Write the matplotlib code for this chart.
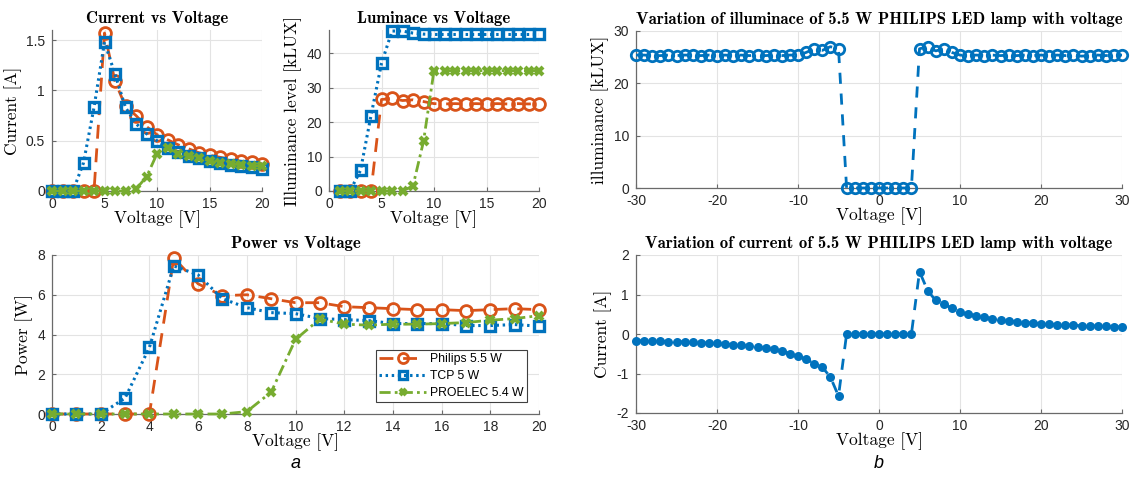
import matplotlib
matplotlib.use("Agg")
import matplotlib.pyplot as plt
from matplotlib.ticker import FuncFormatter

# ---------------- data ----------------
volts = list(range(0, 21))
philips_current = [0, 0, 0, 0, 0, 1.57, 1.09, 0.84, 0.75, 0.64, 0.56, 0.51, 0.46, 0.42,
                   0.38, 0.355, 0.335, 0.315, 0.295, 0.285, 0.27]
tcp_current = [0, 0, 0, 0.28, 0.83, 1.48, 1.16, 0.83, 0.67, 0.57, 0.50, 0.43, 0.39, 0.35,
               0.33, 0.30, 0.28, 0.26, 0.25, 0.24, 0.22]
proelec_current = [0, 0, 0, 0, 0, 0, 0, 0, 0.02, 0.14, 0.37, 0.43, 0.37, 0.35, 0.33,
                   0.30, 0.28, 0.27, 0.26, 0.25, 0.25]

lum_volts = list(range(1, 21))
philips_lum = [0, 0, 0, 0, 26.6, 26.9, 26.3, 26.5, 26.0, 25.4, 25.3, 25.4, 25.3, 25.4,
               25.3, 25.4, 25.3, 25.4, 25.3, 25.4]
tcp_lum = [0, 0, 6.0, 21.9, 37.1, 46.5, 46.5, 45.9, 45.6, 45.5, 45.5, 45.5, 45.5, 45.5,
           45.5, 45.5, 45.5, 45.5, 45.5, 45.5]
proelec_lum = [0, 0, 0, 0, 0, 0, 0, 1.5, 14.4, 35.0, 35.0, 35.0, 35.0, 35.0, 35.0,
               35.0, 35.0, 35.0, 35.0, 35.0]

philips_power = [0, 0, 0, 0, 0, 7.85, 6.55, 5.95, 6.0, 5.8, 5.6, 5.6, 5.4, 5.35, 5.3,
                 5.25, 5.25, 5.2, 5.25, 5.3, 5.25]
tcp_power = [0, 0, 0, 0.8, 3.35, 7.45, 7.0, 5.8, 5.35, 5.1, 5.05, 4.8, 4.75, 4.7, 4.55,
             4.55, 4.55, 4.45, 4.45, 4.5, 4.42]
proelec_power = [0, 0, 0, 0, 0, 0, 0, 0, 0.12, 1.1, 3.75, 4.78, 4.52, 4.47, 4.52, 4.52,
                 4.55, 4.6, 4.72, 4.8, 4.95]

sym_volts = list(range(-30, 31))
philips_illum_sym = [25.4, 25.4, 25.3, 25.3, 25.4, 25.3, 25.4, 25.4, 25.3, 25.4, 25.3,
                     25.4, 25.3, 25.4, 25.3, 25.4, 25.3, 25.4, 25.3, 25.4, 25.4,
                     25.9, 26.6, 26.3, 27.0, 26.6,
                     0, 0, 0, 0, 0, 0, 0, 0, 0,
                     26.6, 27.0, 26.2, 26.6, 25.9,
                     25.4, 25.3, 25.4, 25.3, 25.4, 25.3, 25.4, 25.3, 25.4, 25.3, 25.4,
                     25.3, 25.4, 25.3, 25.4, 25.2, 25.3, 25.4, 25.3, 25.4, 25.4]
philips_current_sym = [-0.17, -0.17, -0.18, -0.18, -0.19, -0.19, -0.20, -0.21, -0.22, -0.23,
                       -0.24, -0.26, -0.27, -0.29, -0.31, -0.33, -0.36, -0.39, -0.42, -0.50,
                       -0.56, -0.64, -0.75, -0.84, -1.09, -1.57,
                       0, 0, 0, 0, 0, 0, 0, 0, 0,
                       1.58, 1.10, 0.85, 0.76, 0.65, 0.56, 0.51, 0.46, 0.42, 0.39, 0.36,
                       0.34, 0.31, 0.29, 0.28, 0.26, 0.25, 0.24, 0.235, 0.22, 0.21, 0.21,
                       0.20, 0.19, 0.18, 0.18]

series_names = ["Philips 5.5 W", "TCP 5 W", "PROELEC 5.4 W"]

# ---------------- style ----------------
BLUE = "#0072BD"
ORANGE = "#D95319"
GREEN = "#77AC30"
TICK_COLOR = "#262626"
SPINE_COLOR = "#6a6a6a"
GRID_COLOR = "#e3e3e3"

plt.rcParams["font.family"] = ["Liberation Sans", "DejaVu Sans"]
plt.rcParams["axes.unicode_minus"] = False

TITLE_FONT = dict(family="cmb10", size=12)
LABEL_FONT = dict(family="cmr10", size=12.5)

fig = plt.figure(figsize=(11.31, 4.8), dpi=100)
W, H = 1131.0, 480.0


def add_ax(left, top, right, bottom):
    return fig.add_axes([left / W, 1 - bottom / H, (right - left) / W, (bottom - top) / H])


def style(ax, xt, yt):
    ax.set_xticks(xt)
    ax.set_yticks(yt)
    ax.grid(True, color=GRID_COLOR, lw=0.8)
    ax.set_axisbelow(True)
    for s in ("top", "right"):
        ax.spines[s].set_visible(False)
    for s in ("left", "bottom"):
        ax.spines[s].set_color(SPINE_COLOR)
        ax.spines[s].set_linewidth(0.9)
    ax.tick_params(direction="in", length=3, width=0.8, color=SPINE_COLOR,
                   labelcolor=TICK_COLOR, labelsize=10)
    ax.tick_params(axis="x", pad=4)
    ax.tick_params(axis="y", pad=5)
    ax.yaxis.set_major_formatter(FuncFormatter(lambda v, p: f"{v:g}"))
    ax.xaxis.set_major_formatter(FuncFormatter(lambda v, p: f"{v:g}"))


def three_series(ax, x, a, b, c, labels=None):
    kw_a = dict(color=ORANGE, ls=(0, (5, 3.5)), lw=2, marker="o", ms=8.5, mfc="none", mew=2)
    kw_b = dict(color=BLUE, ls=(0, (0.8, 1.2)), lw=2.2, marker="s", ms=7, mfc="none", mew=2.4)
    kw_c = dict(color=GREEN, ls=(0, (4, 1.5, 1, 1.5)), lw=2, marker="x", ms=5.5, mew=3)
    la = labels[0] if labels else None
    lb = labels[1] if labels else None
    lc = labels[2] if labels else None
    ax.plot(x, a, label=la, clip_on=False, zorder=3, **kw_a)
    ax.plot(x, b, label=lb, clip_on=False, zorder=4, **kw_b)
    ax.plot(x, c, label=lc, clip_on=False, zorder=5, **kw_c)


# Current vs Voltage
ax1 = add_ax(52, 30, 262, 191)
three_series(ax1, volts, philips_current, tcp_current, proelec_current)
ax1.set_xlim(0, 20)
ax1.set_ylim(0, 1.6)
style(ax1, [0, 5, 10, 15, 20], [0, 0.5, 1, 1.5])
ax1.set_title("Current vs Voltage", pad=5, **TITLE_FONT)
ax1.set_xlabel("Voltage [V]", labelpad=0, **LABEL_FONT)
ax1.set_ylabel("Current [A]", labelpad=3, **LABEL_FONT)

# Luminance vs Voltage
ax2 = add_ax(329, 30, 539, 191)
three_series(ax2, lum_volts, philips_lum, tcp_lum, proelec_lum)
ax2.set_xlim(0, 20)
ax2.set_ylim(0, 46.8)
style(ax2, [0, 5, 10, 15, 20], [0, 10, 20, 30, 40])
ax2.set_title("Luminace vs Voltage", pad=5, **TITLE_FONT)
ax2.set_xlabel("Voltage [V]", labelpad=0, **LABEL_FONT)
ax2.set_ylabel("Illuminance level [kLUX]", labelpad=3, **LABEL_FONT)

# Power vs Voltage
ax3 = add_ax(52, 255, 539, 414)
three_series(ax3, volts, philips_power, tcp_power, proelec_power, labels=series_names)
ax3.set_xlim(0, 20)
ax3.set_ylim(0, 8)
style(ax3, list(range(0, 21, 2)), [0, 2, 4, 6, 8])
ax3.set_title("Power vs Voltage", pad=5, **TITLE_FONT)
ax3.set_xlabel("Voltage [V]", labelpad=0, **LABEL_FONT)
ax3.set_ylabel("Power [W]", labelpad=3, **LABEL_FONT)
leg = ax3.legend(loc="lower right", bbox_to_anchor=(0.975, 0.075), borderaxespad=0,
                 fontsize=8.8, handlelength=3.8, handletextpad=0.35, labelspacing=0.4,
                 borderpad=0.25, fancybox=False, framealpha=1, edgecolor="#404040",
                 markerscale=0.85)
leg.get_frame().set_linewidth(0.8)

# Right top: illuminance
ax4 = add_ax(636, 31, 1122, 188)
ax4.plot(sym_volts, philips_illum_sym, color=BLUE, ls=(0, (4, 3.5)), lw=2,
         marker="o", ms=7.5, mfc="none", mew=2, clip_on=False, zorder=3)
ax4.set_xlim(-30, 30)
ax4.set_ylim(0, 30)
style(ax4, [-30, -20, -10, 0, 10, 20, 30], [0, 10, 20, 30])
ax4.set_title("Variation of illuminace of 5.5 W PHILIPS LED lamp with voltage", pad=5,
              **TITLE_FONT)
ax4.set_xlabel("Voltage [V]", labelpad=0, **LABEL_FONT)
ax4.set_ylabel("illuminance [kLUX]", labelpad=3, **LABEL_FONT)

# Right bottom: current
ax5 = add_ax(636, 255, 1122, 413)
ax5.plot(sym_volts, philips_current_sym, color=BLUE, ls=(0, (4, 3.5)), lw=2,
         marker="o", ms=6.5, mfc=BLUE, mew=0, clip_on=False, zorder=3)
ax5.set_xlim(-30, 30)
ax5.set_ylim(-2, 2)
style(ax5, [-30, -20, -10, 0, 10, 20, 30], [-2, -1, 0, 1, 2])
ax5.set_title("Variation of current of 5.5 W PHILIPS LED lamp with voltage", pad=5,
              **TITLE_FONT)
ax5.set_xlabel("Voltage [V]", labelpad=0, **LABEL_FONT)
ax5.set_ylabel("Current [A]", labelpad=3, **LABEL_FONT)

fig.text(296 / W, 1 - 464 / H, "a", ha="center", va="center", fontsize=13, style="italic")
fig.text(879 / W, 1 - 464 / H, "b", ha="center", va="center", fontsize=13, style="italic")

fig.savefig("out.png", dpi=100, facecolor="white")
